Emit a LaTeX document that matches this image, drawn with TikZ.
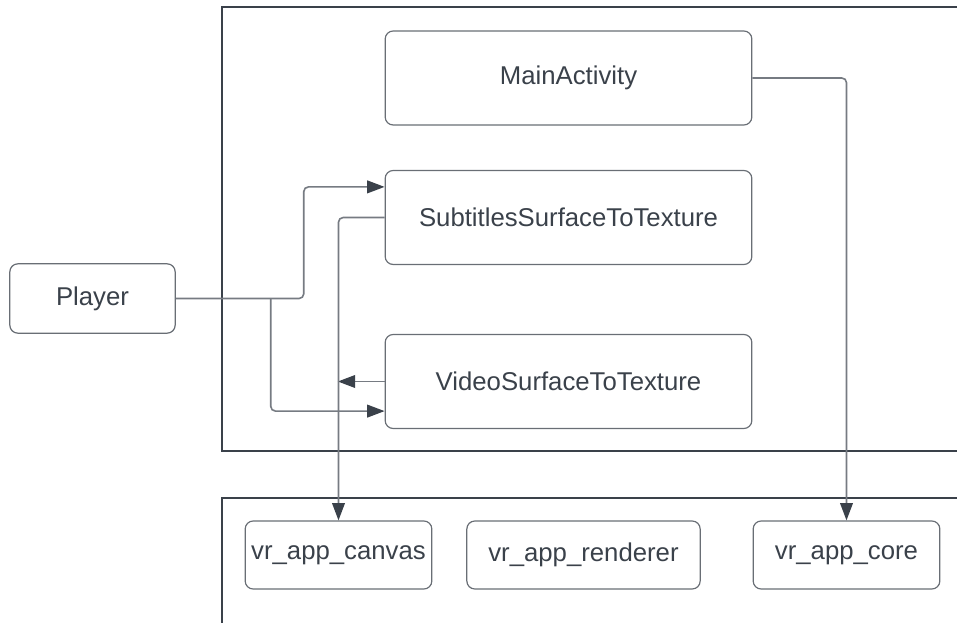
\documentclass[tikz,border=0pt]{standalone}
\usepackage{fontspec}
\setmainfont{Liberation Sans}
\usepackage{tikz}
\usetikzlibrary{arrows.meta, positioning, calc}

\definecolor{inkdark}{RGB}{58, 65, 74}
\definecolor{linegray}{RGB}{118, 123, 130}
\definecolor{boxgray}{RGB}{105, 110, 117}

\begin{document}
\begin{tikzpicture}[x=0.75pt, y=-0.75pt,
    module/.style={draw=boxgray, line width=0.9pt, rounded corners=6pt, text=inkdark,
      font=\fontsize{19.3}{23}\selectfont, inner sep=0pt},
    wide/.style={module, minimum width=275pt, minimum height=70.5pt},
    lib/.style={module, minimum width=140pt, minimum height=51pt},
    conn/.style={draw=linegray, line width=1.2pt, rounded corners=3.5pt,
      -{Triangle[length=13pt, width=9.5pt, color=inkdark, fill=inkdark]}},
    frame/.style={draw=inkdark, line width=0.8pt}]
  \useasboundingbox (0,0) rectangle (957,623);

  % Containers
  \draw[frame] (957,7) -- (222,7) -- (222,451) -- (957,451);
  \draw[frame] (957,498) -- (222,498) -- (222,623);

  % Java side
  \node[wide] (main) at (568.5,78) {MainActivity};
  \node[wide] (subs) at (568.5,217.5) {SubtitlesSurfaceToTexture};
  \node[wide] (video) at (568.5,381.5) {VideoSurfaceToTexture};
  \node[module, minimum width=124pt, minimum height=52pt] (player) at (92.5,298.5) {Player};

  % Native libraries
  \node[lib] (canvas) at (338.5,555) {vr\_app\_canvas};
  \node[lib, minimum width=175pt] (renderer) at (583.5,555) {vr\_app\_renderer};
  \node[lib] (core) at (846.5,555) {vr\_app\_core};

  % Connections
  \draw[conn] (player.east) -- ++(128,0) |- ($(subs.north west)+(0,17)$);
  \draw[conn] (player.east) ++(95,0) |- ($(video.south west)+(0,-18)$);
  \draw[conn, shorten >=-0.5pt] (video.west) -- (canvas.north |- video.west);
  \draw[conn] (subs.west) -| (canvas.north);
  \draw[conn] (main.east) -| (core.north);
\end{tikzpicture}
\end{document}
